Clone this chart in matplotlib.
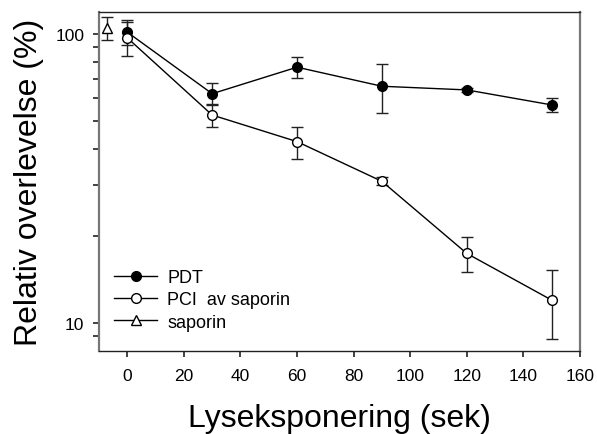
import matplotlib
matplotlib.use('Agg')
import matplotlib.pyplot as plt
from matplotlib.ticker import NullLocator, FixedLocator

plt.rcParams['font.family'] = ['Liberation Sans', 'DejaVu Sans']

# data (log y axis)
x_pdt = [0, 30, 60, 90, 120, 150]
y_pdt = [101.4, 62.1, 76.7, 65.9, 64.0, 56.8]
err_pdt = [10.0, 5.5, 6.5, 12.5, 1.0, 3.0]

x_pci = [0, 30, 60, 90, 120, 150]
y_pci = [96.9, 52.4, 42.4, 30.9, 17.4, 12.0]
err_pci = [12.8, 4.8, 5.4, 1.0, 2.4, 3.2]

x_sap = [-7]
y_sap = [104.6]
err_sap = [9.5]

x_ticks = list(range(0, 161, 20))
y_ticks = [9, 10, 20, 30, 40, 50, 60, 70, 80, 90, 100]
y_labels = ['', '10', '', '', '', '', '', '', '', '', '100']

fig = plt.figure(figsize=(5.97, 4.35), dpi=100)
ax = fig.add_axes([0.1658, 0.1908, 0.8057, 0.7792])

common = dict(color='black', lw=1.0, capsize=4, elinewidth=1.0, capthick=1.0,
              markersize=7, markeredgewidth=1.0, ecolor='#222222')
ax.errorbar(x_pdt, y_pdt, yerr=err_pdt, marker='o', mfc='black', mec='black',
            label='PDT', **common)
ax.errorbar(x_pci, y_pci, yerr=err_pci, marker='o', mfc='white', mec='black',
            label='PCI  av saporin', **common)
ax.errorbar(x_sap, y_sap, yerr=err_sap, marker='^', mfc='white', mec='black',
            label='saporin', **common)

ax.set_yscale('log')
ax.set_xlim(-10, 160)
ax.set_ylim(8, 119)
ax.xaxis.set_major_locator(FixedLocator(x_ticks))
ax.set_yticks(y_ticks)
ax.set_yticklabels(y_labels)
ax.yaxis.set_minor_locator(NullLocator())

for side in ['left', 'right']:
    ax.spines[side].set_color('#777777')
    ax.spines[side].set_linewidth(1.6)
for side in ['top', 'bottom']:
    ax.spines[side].set_color('#222222')
    ax.spines[side].set_linewidth(1.0)
ax.tick_params(which='both', direction='out', color='#222222', labelsize=12.5,
               width=1.2, length=4.5)
ax.tick_params(axis='x', pad=8)
ax.tick_params(axis='y', pad=6)

ax.set_xlabel('Lyseksponering (sek)', fontsize=23, labelpad=14)
ax.set_ylabel('Relativ overlevelse (%)', fontsize=23, labelpad=8)

handles, labels = ax.get_legend_handles_labels()
handles = [h[0] for h in handles]
ax.legend(handles, labels, loc='lower left', bbox_to_anchor=(0.031, 0.06),
          frameon=False, fontsize=13, handlelength=2.4, handletextpad=0.55,
          labelspacing=0.3, borderpad=0, borderaxespad=0)

fig.savefig('out.png', dpi=100)
plt.close(fig)
